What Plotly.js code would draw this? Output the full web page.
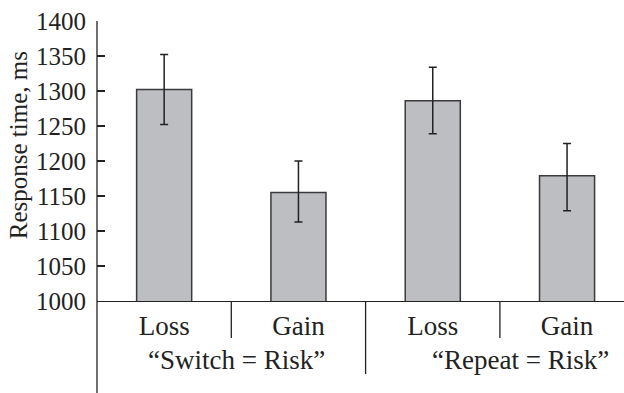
<!DOCTYPE html>
<html>
<head>
<meta charset="utf-8">
<script src="https://cdn.plot.ly/plotly-3.0.1.min.js"></script>
<style>html,body{margin:0;padding:0;background:#fff;}#chart{width:624px;height:393px;}</style>
</head>
<body>
<div id="chart"></div>
<script>
var conditions = ["Loss", "Gain", "Loss", "Gain"];
var groups = ["\u201cSwitch = Risk\u201d", "\u201cRepeat = Risk\u201d"];
var responseTime = [1302, 1155, 1286, 1179];
var errorPlus = [50, 45, 48, 46];
var errorMinus = [50, 42, 47, 50];
var yTicks = [1000, 1050, 1100, 1150, 1200, 1250, 1300, 1350, 1400];

var positions = conditions.map(function (c, i) { return i; });
var serif = "'Liberation Serif', 'Times New Roman', serif";
var ink = "#222222";

var trace = {
  type: "bar",
  x: positions,
  y: responseTime,
  marker: { color: "#bdbec2", line: { color: "#3a3a3a", width: 1.5 } },
  width: 0.41,
  error_y: {
    type: "data", symmetric: false,
    array: errorPlus, arrayminus: errorMinus,
    color: ink, thickness: 1.5, width: 4
  },
  hoverinfo: "none"
};

var shapes = [
  { type: "line", xref: "paper", yref: "paper", x0: 0, x1: 0, y0: 1, y1: -0.34,
    line: { color: ink, width: 1.3 } },
  { type: "line", xref: "x", yref: "paper", x0: 0.5, x1: 0.5, y0: 0, y1: -0.132,
    line: { color: ink, width: 1.3 } },
  { type: "line", xref: "x", yref: "paper", x0: 1.5, x1: 1.5, y0: 0, y1: -0.261,
    line: { color: ink, width: 1.3 } },
  { type: "line", xref: "x", yref: "paper", x0: 2.5, x1: 2.5, y0: 0, y1: -0.132,
    line: { color: ink, width: 1.3 } }
];

var annotations = [
  { text: groups[0], xref: "paper", yref: "paper", x: 0.265, y: -0.212,
    xanchor: "center", yanchor: "middle", showarrow: false,
    font: { family: serif, size: 27, color: ink } },
  { text: groups[1], xref: "paper", yref: "paper", x: 0.803, y: -0.212,
    xanchor: "center", yanchor: "middle", showarrow: false,
    font: { family: serif, size: 27, color: ink } },
  { text: "Response time, ms", xref: "paper", yref: "paper", x: -0.150, y: 0.556,
    xanchor: "center", yanchor: "middle", textangle: -90, showarrow: false,
    font: { family: serif, size: 25, color: ink } }
];

var layout = {
  width: 624, height: 393,
  margin: { l: 97, r: 0, t: 21, b: 92, pad: 0 },
  paper_bgcolor: "#fff", plot_bgcolor: "#fff",
  showlegend: false,
  xaxis: {
    range: [-0.5, 3.424],
    tickvals: positions, ticktext: conditions,
    showgrid: false, zeroline: false,
    showline: true, linecolor: ink, linewidth: 1.3,
    ticks: "",
    tickfont: { family: serif, size: 27, color: ink },
    ticklabelstandoff: 0,
    fixedrange: true
  },
  yaxis: {
    range: [1000, 1400],
    tickvals: yTicks,
    showgrid: false, zeroline: false,
    showline: false,
    ticks: "inside", ticklen: 8, tickwidth: 1.3, tickcolor: ink,
    tickfont: { family: serif, size: 25, color: ink },
    ticklabelstandoff: 10,
    fixedrange: true
  },
  shapes: shapes,
  annotations: annotations
};

Plotly.newPlot("chart", [trace], layout, { displayModeBar: false, staticPlot: true });
</script>
</body>
</html>
